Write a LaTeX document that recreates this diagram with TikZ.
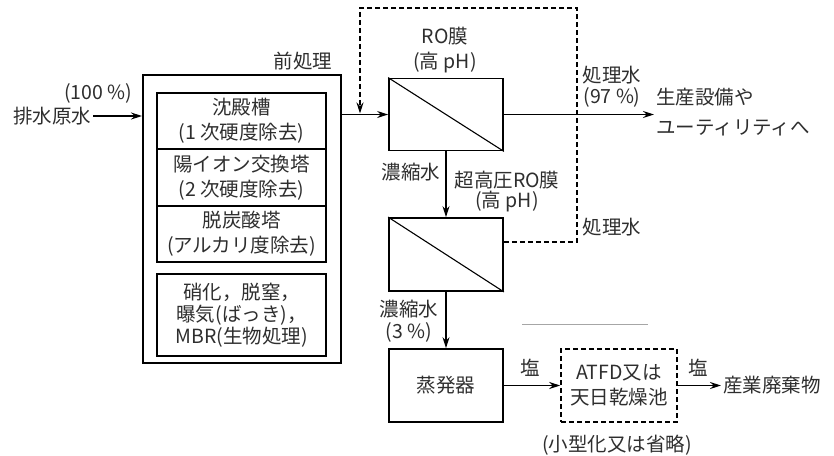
\documentclass[tikz,border=0pt]{standalone}
\usepackage{fontspec}
\setmainfont{Noto Sans CJK JP}
\usetikzlibrary{arrows.meta,calc}
\definecolor{txt}{HTML}{2E2E2E}
\begin{document}
\begin{tikzpicture}[x=1pt,y=-1pt,
  font=\fontsize{19.5}{23}\selectfont, text=txt,
  outerbox/.style={draw, line width=2pt, minimum width=198pt, minimum height=288pt, inner sep=0pt},
  innerbox/.style={draw, line width=1.1pt, minimum width=169pt, align=center, inner sep=0pt},
  membox/.style={draw, line width=1.8pt, minimum width=114pt, minimum height=72pt, inner sep=0pt},
  dashbox/.style={draw, line width=1.6pt, dash pattern=on 5pt off 3pt, minimum width=116pt, minimum height=73pt, align=center, inner sep=0pt},
  lbl/.style={inner sep=1pt, align=center},
  arr/.style={line width=1.3pt, -{Stealth[length=11pt,width=7pt]}},
  dline/.style={line width=1.5pt, dash pattern=on 5pt off 3pt, -{Stealth[length=11pt,width=7pt]}}]
\useasboundingbox (0,0) rectangle (834,455);

% pretreatment
\node[outerbox] (pre) at (242,219) {};
\node[innerbox, minimum height=56pt, font=\fontsize{19.5}{25}\selectfont] (b1) at (241.5,121) {沈殿槽\\(1 次硬度除去)};
\node[innerbox, minimum height=57pt, font=\fontsize{19.5}{25}\selectfont] (b2) at (241.5,177.5) {陽イオン交換塔\\(2 次硬度除去)};
\node[innerbox, minimum height=56pt, font=\fontsize{19.5}{25}\selectfont] (b3) at (241.5,234) {脱炭酸塔\\(アルカリ度除去)};
\node[innerbox, minimum height=82pt, font=\fontsize{19.5}{22}\selectfont] (b4) at (241.5,315) {硝化，脱窒，\\曝気(ばっき)，\\MBR(生物処理)};
\node[lbl] (prelbl) at (303,61) {前処理};

% input
\node[lbl, inner sep=2pt] (src) at (52,116) {排水原水};
\node[lbl] (pct100) at (98,93) {(100 \%)};

% RO membranes
\node[membox] (ro1) at (446,114.5) {};
\draw[line width=1.1pt] (ro1.north west) -- (ro1.south east);
\node[lbl, font=\fontsize{19.5}{25}\selectfont] (ro1lbl) at (445,50) {RO膜\\(高 pH)};
\node[membox, minimum height=73pt] (ro2) at (446,254.5) {};
\draw[line width=1.1pt] (ro2.north west) -- (ro2.south east);
\node[lbl, font=\fontsize{19.5}{20}\selectfont] (ro2lbl) at (507,192) {超高圧RO膜\\(高 pH)};
\node[lbl] (conc1) at (411,172) {濃縮水};
\node[lbl, font=\fontsize{19.5}{21}\selectfont] (perm1) at (612,87) {処理水\\(97 \%)};
\node[lbl] (perm2) at (612,227) {処理水};
\node[lbl, align=left, anchor=west, inner sep=2pt, font=\fontsize{19.5}{30}\selectfont] (dest) at (654,112) {生産設備や\\ユーティリティへ};
\node[lbl, font=\fontsize{19.5}{22}\selectfont] (conc2) at (409,321) {濃縮水\\(3 \%)};

% evaporator and drying
\node[membox, minimum height=73pt] (evap) at (446,385.5) {蒸発器};
\node[dashbox, font=\fontsize{19.5}{25}\selectfont] (atfd) at (619,385.5) {ATFD又は\\天日乾燥池};
\node[lbl] (salt1) at (530,368) {塩};
\node[lbl] (salt2) at (698,368) {塩};
\node[lbl, anchor=west, inner sep=2pt] (waste) at (721,385.5) {産業廃棄物};
\node[lbl] (small) at (617,445) {(小型化又は省略)};
\draw[line width=1pt, gray!70] (522,324) -- (648,324);

% connectors
\draw[arr] (src.east) -- (pre.west |- src.east);
\draw[arr] (pre.east |- ro1.west) -- (ro1.west);
\draw[arr] (ro1.east) -- (dest.west |- ro1.east);
\draw[arr] (ro1.south) -- (ro2.north);
\draw[arr] (ro2.south) -- (evap.north);
\draw[arr] (evap.east) -- (atfd.west);
\draw[arr] (atfd.east) -- (waste.west);
\coordinate (tr) at (577,8);
\coordinate (jn) at (360,113.5);
\draw[dline] ([yshift=12.5pt]ro2.east) -| (tr) -| (jn);
\end{tikzpicture}
\end{document}
